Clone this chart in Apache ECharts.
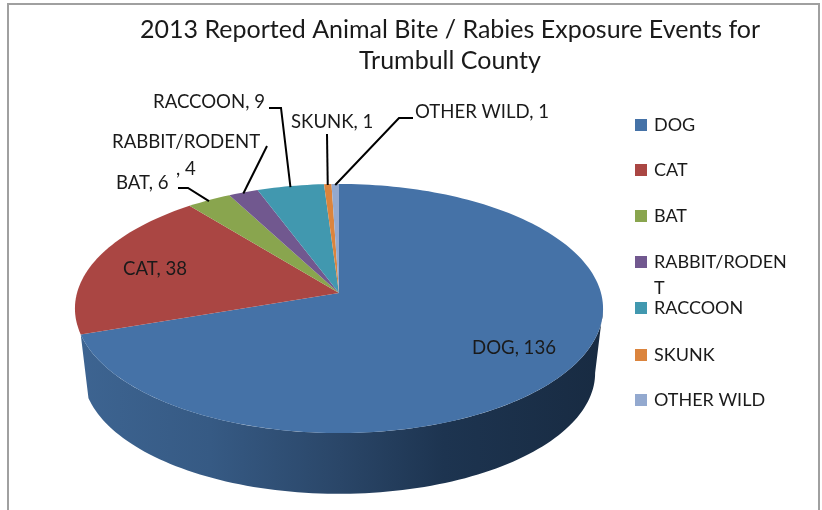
<!DOCTYPE html>
<html><head><meta charset="utf-8">
<style>html,body{margin:0;padding:0;background:#fff}#c{width:822px;height:510px}</style>
<script src="https://cdn.jsdelivr.net/npm/echarts@6/dist/echarts.min.js"></script>
</head><body><div id="c"></div>
<script>
const categories = ['DOG','CAT','BAT','RABBIT/RODENT','RACCOON','SKUNK','OTHER WILD'];
const legendLabels = ['DOG','CAT','BAT','RABBIT/RODEN\nT','RACCOON','SKUNK','OTHER WILD'];
const values = [136,38,6,4,9,1,1];
const colors = ['#4572A7','#AA4643','#89A54E','#71588F','#4198AF','#DB843D','#93A9CF'];
const titleText = '2013 Reported Animal Bite / Rabies Exposure Events for\nTrumbull County';

// label layout: [text, x, y, align], plus the fixed elbow(s) of each leader line
const labelLayout = [
  {lines:[['DOG, 136',514,348,'center']], leader:null},
  {lines:[['CAT, 38',155,269,'center']], leader:null},
  {lines:[['BAT, 6',116,183,'left']], leader:[[178,188],[188,188]]},
  {lines:[['RABBIT/RODENT',112,142,'left'],[', 4',176,169,'left']], leader:[[267,146]]},
  {lines:[['RACCOON, 9',153,102,'left']], leader:[[269,108],[281,108]]},
  {lines:[['SKUNK, 1',291,122,'left']], leader:[[327,134]]},
  {lines:[['OTHER WILD, 1',415,112,'left']], leader:[[413,118],[399,118]]}
];
const legendCenters = [125,170,216,262,308,355,400];
const LEGEND_LINE = 26;

const FONT = 'Lato, Carlito, sans-serif';
const total = values.reduce((a,b)=>a+b,0);
// perspective view of the pie disc
const view = {cx:339, apexY:293, R:262, H:122.6, c:-0.1245, drop:64.5, shrink:0.97, ellipseY:308.5};
const frontFrom = 97, frontTo = 252; // visible rim, degrees clockwise from 12 o'clock

function topPoint(deg){
  const t = deg*Math.PI/180, u = Math.sin(t), v = -Math.cos(t), d = 1+view.c*v;
  return [view.cx+view.R*u/d, view.apexY+view.H*v/d];
}
function lowPoint(deg){
  const p = topPoint(deg);
  return [view.cx+(p[0]-view.cx)*view.shrink, view.ellipseY+(p[1]-view.ellipseY)*view.shrink+view.drop];
}
function arc(fn,a,b){
  const n = Math.max(2,Math.ceil(Math.abs(b-a)/1.5)), out=[];
  for(let i=0;i<=n;i++) out.push(fn(a+(b-a)*i/n));
  return out;
}
const rimGradient = {type:'linear',x:80,y:0,x2:600,y2:0,global:true,colorStops:[
  {offset:0,color:'#3D6491'},{offset:.25,color:'#365A84'},{offset:.5,color:'#2A4668'},
  {offset:.7,color:'#1D3450'},{offset:1,color:'#182B42'}]};

function makeRender(idx){
  return function(params,api){
    const before = values.slice(0,idx).reduce((a,b)=>a+b,0);
    const a0 = before/total*360, a1 = (before+api.value(0))/total*360;
    const children = [];
    const f0 = Math.max(a0,frontFrom), f1 = Math.min(a1,frontTo);
    if(idx===0 && f1>f0){
      const pts = arc(topPoint,f0,f1).concat(arc(lowPoint,f0,f1).reverse());
      children.push({type:'polygon',z2:1,shape:{points:pts},style:{fill:rimGradient}});
    }
    const face = [[view.cx,view.apexY]].concat(arc(topPoint,a0,a1));
    children.push({type:'polygon',z2:5,shape:{points:face},style:{fill:colors[idx]}});
    const lay = labelLayout[idx];
    lay.lines.forEach(l=>children.push({type:'text',z2:20,x:l[1],y:l[2],
      style:{text:l[0],fill:'#1A1A1A',font:'18.6px '+FONT,align:l[3],verticalAlign:'middle'}}));
    if(lay.leader){
      const end = topPoint((a0+a1)/2);
      end[1]+=1;
      children.push({type:'polyline',z2:15,shape:{points:lay.leader.concat([end])},
        style:{stroke:'#000',lineWidth:2,fill:null}});
    }
    return {type:'group',children};
  };
}

const chart = echarts.init(document.getElementById('c'),null,{renderer:'canvas'});
chart.setOption({
  animation:false,
  backgroundColor:'#fff',
  title:{text:titleText,left:445,top:9,textAlign:'center',
    textStyle:{fontFamily:FONT,fontSize:25,fontWeight:'normal',color:'#1A1A1A',lineHeight:31}},
  legend:categories.map((n,i)=>{
    // a wrapped entry gets a blank first line so its swatch stays level with its first text line
    const wrapped = legendLabels[i].indexOf('\n')>=0;
    const half = wrapped ? LEGEND_LINE*1.5 : LEGEND_LINE/2;
    return {
      data:[n],left:635,top:legendCenters[i]-half,orient:'vertical',padding:0,
      icon:'rect',itemWidth:12,itemHeight:12,selectedMode:false,
      formatter:()=>(wrapped?' \n':'')+legendLabels[i],
      textStyle:{fontFamily:FONT,fontSize:18,color:'#1A1A1A',lineHeight:LEGEND_LINE,
        padding:[0,0,0,2]}
    };
  }),
  graphic:[{type:'rect',z:-1,silent:true,shape:{x:8,y:4,width:811,height:520},
    style:{fill:'#fff',stroke:'#A0A0A0',lineWidth:2}}],
  series:categories.map((n,i)=>({
    type:'custom',name:n,coordinateSystem:'none',
    itemStyle:{color:colors[i]},
    data:[[values[i]]],renderItem:makeRender(i),silent:true
  }))
});
</script></body></html>
